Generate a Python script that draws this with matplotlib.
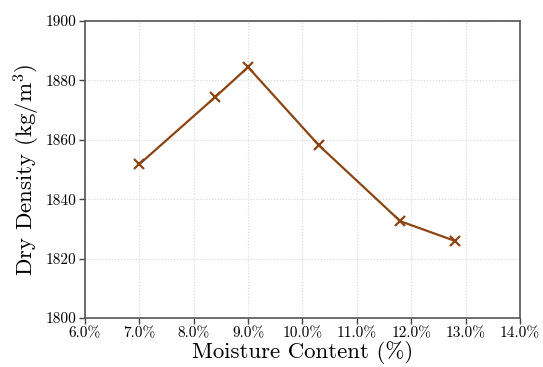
import matplotlib
matplotlib.use("Agg")
import matplotlib.pyplot as plt
from matplotlib.ticker import FuncFormatter

plt.rcParams["font.family"] = ["cmr10", "DejaVu Serif"]
plt.rcParams["mathtext.fontset"] = "cm"
plt.rcParams["axes.unicode_minus"] = False
plt.rcParams["axes.formatter.use_mathtext"] = True

# dados
umidade = [7.0, 8.4, 9.0, 10.3, 11.8, 12.8]
densidade = [1851.8, 1874.5, 1884.5, 1858.2, 1832.6, 1826.0]
xticks = [6, 7, 8, 9, 10, 11, 12, 13, 14]
yticks = [1800, 1820, 1840, 1860, 1880, 1900]

fig = plt.figure(figsize=(5.43, 3.67), dpi=100)
ax = fig.add_axes([0.1565, 0.1335, 0.801, 0.809])

ax.plot(umidade, densidade, color="#8B4513", lw=1.6, marker="x",
        markersize=7, markeredgewidth=1.6)

ax.set_xlim(6, 14)
ax.set_ylim(1800, 1900)
ax.set_xticks(xticks)
ax.set_yticks(yticks)
ax.xaxis.set_major_formatter(FuncFormatter(lambda v, p: f"{v:.1f}%"))
ax.yaxis.set_major_formatter(FuncFormatter(lambda v, p: f"{v:.0f}"))
ax.tick_params(labelsize=11, color="#444444", length=4, width=1, pad=2)
ax.grid(True, color="#d5d5d5", linestyle=":", linewidth=0.8)
for s in ax.spines.values():
    s.set_color("#555555")
    s.set_linewidth(1.2)

ax.set_xlabel("Moisture Content (%)", fontsize=16.5, labelpad=1)
ax.set_ylabel(r"Dry Density (kg/m$^3$)", fontsize=16.5, labelpad=3)

fig.savefig("out.png", dpi=100)
